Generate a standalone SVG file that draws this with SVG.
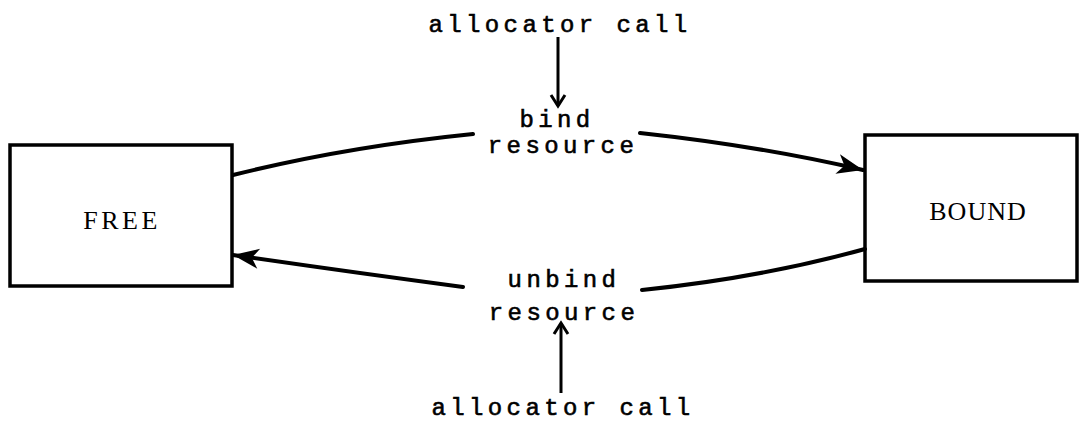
<svg xmlns="http://www.w3.org/2000/svg" width="1080" height="424" viewBox="0 0 1080 424">
<style>
.box{fill:#fff;stroke:#000;stroke-width:3.5}
.lbl{font-family:"Liberation Serif",serif;font-size:26px;fill:#000;text-anchor:middle}
.mono{font-family:"Liberation Mono",monospace;font-size:24px;letter-spacing:4.4px;fill:#000;text-anchor:middle;stroke:#000;stroke-width:0.6}
.edge{fill:none;stroke:#000;stroke-width:4;stroke-linecap:round}
.thin{fill:none;stroke:#000;stroke-width:3}
</style>
<defs>
<marker id="ah" markerWidth="40" markerHeight="40" refX="0" refY="0" markerUnits="userSpaceOnUse" orient="auto" overflow="visible">
<path d="M-26,-10 L0,0 L-26,10 L-19,0 Z" fill="#000"/>
</marker>
<marker id="oh" markerWidth="30" markerHeight="30" refX="0" refY="0" markerUnits="userSpaceOnUse" orient="auto" overflow="visible">
<path d="M-11,-7 L0,0 L-11,7" fill="none" stroke="#000" stroke-width="3"/>
</marker>
</defs>
<g id="free">
<rect class="box" x="10" y="145" width="222" height="141"/>
<text class="lbl" x="122" y="229" letter-spacing="3.5">FREE</text>
</g>
<g id="bound">
<rect class="box" x="865" y="135" width="212" height="146"/>
<text class="lbl" x="978" y="220" letter-spacing="1">BOUND</text>
</g>
<g id="labels">
<text class="mono" x="560" y="32">allocator call</text>
<text class="mono" x="557" y="127">bind</text>
<text class="mono" x="563" y="153">resource</text>
<text class="mono" x="564" y="287">unbind</text>
<text class="mono" x="564" y="320">resource</text>
<text class="mono" x="563" y="415">allocator call</text>
</g>
<g id="connectors">
<path class="edge" d="M233,175 Q345,147 473,134"/>
<path class="edge" d="M640,133 Q760,146 863,170" marker-end="url(#ah)"/>
<path class="edge" d="M865,249 Q760,278 642,290"/>
<path class="edge" d="M463,287 Q350,272 233,255" marker-end="url(#ah)"/>
<path class="thin" d="M558,37 L558,106" marker-end="url(#oh)"/>
<path class="thin" d="M561,393 L561,323" marker-end="url(#oh)"/>
</g>
</svg>
